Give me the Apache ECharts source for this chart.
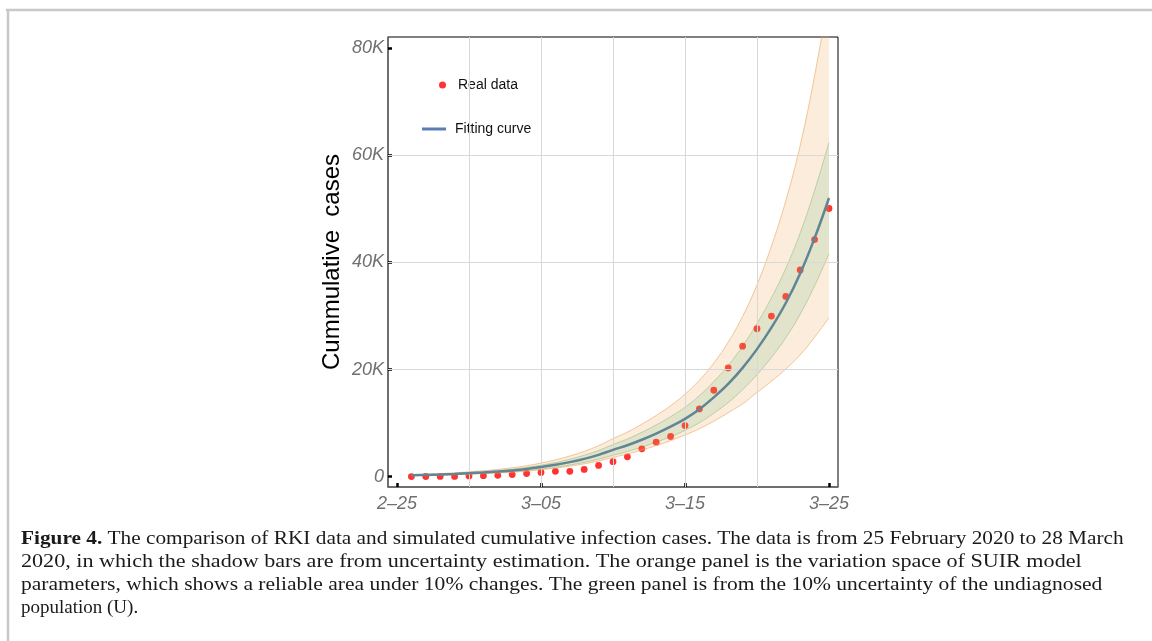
<!DOCTYPE html>
<html>
<head>
<meta charset="utf-8">
<script src="https://cdn.jsdelivr.net/npm/echarts@6/dist/echarts.min.js"></script>
<style>
  html, body { margin: 0; padding: 0; background: #fff; }
  #main { width: 1152px; height: 641px; }
</style>
</head>
<body>
<div id="main"></div>
<script>
// day index: 0 = 2-25
var days = [1, 2, 3, 4, 5, 6, 7, 8, 9, 10, 11, 12, 13, 14, 15, 16, 17, 18, 19, 20, 21, 22, 23, 24, 25, 26, 27, 28, 29, 30];
var realData = [30, 40, 50, 60, 150, 200, 250, 400, 600, 800, 1000, 1000, 1350, 2100, 2800, 3700, 5200, 6450, 7500, 9530,
  12650, 16130, 20300, 24350, 27600, 29960, 33640, 38560, 44240, 50040];
var fitCurve = [260, 330, 410, 520, 650, 790, 960, 1170, 1440, 1800, 2220, 2720, 3330, 4080, 5000, 5870, 6900, 8050, 9330, 10800,
  12600, 14800, 17300, 20300, 23800, 27800, 32400, 37900, 44500, 52000];
// orange panel: variation of SUIR parameters
var orangeUpper = [370, 470, 580, 740, 920, 1120, 1360, 1660, 2040, 2560, 3150, 3860, 4730, 5790, 7100, 8340, 9800, 11430, 13250, 15400,
  18000, 21200, 25100, 29900, 35800, 43000, 51500, 61800, 74800, 90000];
var orangeLower = [190, 240, 300, 370, 470, 570, 690, 840, 1040, 1300, 1600, 1960, 2400, 2940, 3600, 4230, 4970, 5800, 6720, 7780,
  8950, 10360, 11940, 13600, 15710, 17790, 20090, 22740, 26030, 29640];
// green panel: 10% uncertainty of U
var greenUpper = [310, 400, 490, 620, 780, 950, 1150, 1400, 1730, 2160, 2660, 3260, 4000, 4900, 6000, 7040, 8280, 9660, 11200, 12960,
  15120, 17760, 20760, 24360, 28560, 33360, 38880, 45480, 53400, 62400];
var greenLower = [210, 260, 330, 420, 520, 630, 770, 940, 1150, 1440, 1780, 2180, 2660, 3260, 4000, 4700, 5520, 6440, 7460, 8640,
  10080, 11840, 13840, 16240, 19040, 22240, 25920, 30320, 35600, 41600];

var xTickValues = [0, 10, 20, 30];
var xTickLabels = ['2\u201325', '3\u201305', '3\u201315', '3\u201325'];
var yTickValues = [0, 20000, 40000, 60000, 80000];
var yTickLabels = ['0', '20K', '40K', '60K', '80K'];
var xGridValues = [5, 10, 15, 20, 25];
var yGridValues = [20000, 40000, 60000];

var captionLines = [
  '{b|Figure 4.} The comparison of RKI data and simulated cumulative infection cases. The data is from 25 February 2020 to 28 March',
  '2020, in which the shadow bars are from uncertainty estimation. The orange panel is the variation space of SUIR model',
  'parameters, which shows a reliable area under 10% changes. The green panel is from the 10% uncertainty of the undiagnosed',
  'population (U).'
];
var captionStretch = [1.121, 1.164, 1.133, 1.0];

function pairs(ys) {
  return days.map(function (d, i) { return [d, ys[i]]; });
}
// value first so the stack runs on the y values
function flipped(ys, base) {
  return days.map(function (d, i) { return [base ? ys[i] - base[i] : ys[i], d]; });
}

var chart = echarts.init(document.getElementById('main'));

var gridMarks = xGridValues.map(function (v) { return { xAxis: v }; })
  .concat(yGridValues.map(function (v) { return { yAxis: v }; }));

var caption = captionLines.map(function (t, i) {
  return {
    type: 'text',
    x: 21,
    y: 539 + i * 23,
    scaleX: captionStretch[i],
    style: {
      text: t,
      fontFamily: 'Liberation Serif',
      fontSize: 19,
      fill: '#1a1a1a',
      verticalAlign: 'middle',
      rich: { b: { fontWeight: 'bold', fontFamily: 'Liberation Serif', fontSize: 19, fill: '#1a1a1a' } }
    }
  };
});

function band(name, stack, z, values, base, edge, fill) {
  return {
    name: name, type: 'line', stack: stack, z: z, smooth: 0.4, showSymbol: false, silent: true,
    encode: { x: 1, y: 0 },
    data: flipped(values, base),
    lineStyle: { color: edge, width: 1 },
    areaStyle: fill ? { color: fill } : undefined
  };
}

var legendText = { fontSize: 14, color: '#111' };

var option = {
  animation: false,
  backgroundColor: '#fff',
  textStyle: { fontFamily: 'Liberation Sans' },
  grid: {
    left: 388, top: 37, width: 450, height: 450,
    show: true, borderColor: '#000', borderWidth: 1, backgroundColor: 'transparent'
  },
  legend: [
    {
      data: [{ name: 'Real data', icon: 'circle', itemStyle: { color: '#ff0000' } }],
      left: 436, top: 75, padding: 3, itemWidth: 7, itemHeight: 7, selectedMode: false,
      backgroundColor: '#fff',
      textStyle: Object.assign({ padding: [0, 0, 0, 7] }, legendText)
    },
    {
      data: [{ name: 'Fitting curve', icon: 'rect', itemStyle: { color: '#5b7db1' } }],
      left: 419, top: 119, padding: 3, itemWidth: 24, itemHeight: 3, selectedMode: false,
      backgroundColor: '#fff',
      textStyle: Object.assign({ padding: [0, 0, 0, 4] }, legendText)
    }
  ],
  xAxis: {
    type: 'value', min: -0.625, max: 30.625,
    axisLine: { onZero: false, lineStyle: { color: '#6a6a6a', width: 1.5 } },
    axisTick: { inside: true, length: 4, customValues: xTickValues, lineStyle: { color: '#000', width: 2.5 } },
    axisLabel: {
      customValues: xTickValues, margin: 8,
      fontSize: 18, fontStyle: 'italic', color: '#707070',
      formatter: function (v) { return xTickLabels[xTickValues.indexOf(v)]; }
    },
    splitLine: { show: false }
  },
  yAxis: {
    type: 'value', min: -1920, max: 82030,
    name: 'Cummulative  cases', nameLocation: 'middle', nameGap: 44, nameRotate: 90,
    nameTextStyle: { fontSize: 24, color: '#000' },
    axisLine: { show: true, onZero: false, lineStyle: { color: '#6a6a6a', width: 1.5 } },
    axisTick: { show: true, inside: true, length: 4, customValues: yTickValues, lineStyle: { color: '#000', width: 2.5 } },
    axisLabel: {
      customValues: yTickValues, margin: 4,
      fontSize: 18, fontStyle: 'italic', color: '#707070',
      formatter: function (v) { return yTickLabels[yTickValues.indexOf(v)]; }
    },
    splitLine: { show: false }
  },
  graphic: [
    { type: 'line', shape: { x1: 6, y1: 10, x2: 1152, y2: 10 }, style: { stroke: '#c8c8c8', lineWidth: 2.5 } },
    { type: 'line', shape: { x1: 8, y1: 9, x2: 8, y2: 641 }, style: { stroke: '#c8c8c8', lineWidth: 2.5 } }
  ].concat(caption),
  series: [
    {
      name: 'grid', type: 'line', data: [], z: 0, silent: true,
      markLine: {
        silent: true, symbol: ['none', 'none'], label: { show: false },
        lineStyle: { color: '#d8d8d8', width: 1, type: 'solid' },
        data: gridMarks
      }
    },
    band('green low', 'g', 2, greenLower, null, 'rgba(110,185,120,0.5)', null),
    band('green band', 'g', 2, greenUpper, greenLower, 'rgba(110,185,120,0.5)', 'rgba(95,200,150,0.3)'),
    {
      name: 'Real data', type: 'scatter', z: 3, symbolSize: 6.8,
      data: pairs(realData),
      itemStyle: { color: '#ff0000' }
    },
    band('orange low', 'o', 4, orangeLower, null, 'rgba(235,165,95,0.6)', null),
    band('orange band', 'o', 4, orangeUpper, orangeLower, 'rgba(235,165,95,0.6)', 'rgba(238,175,105,0.34)'),
    {
      name: 'Fitting curve', type: 'line', z: 5, smooth: 0.4, showSymbol: false,
      data: pairs(fitCurve),
      lineStyle: { color: '#608594', width: 2.5 },
      itemStyle: { color: '#5b7db1' }
    }
  ]
};
chart.setOption(option);
</script>
</body>
</html>
